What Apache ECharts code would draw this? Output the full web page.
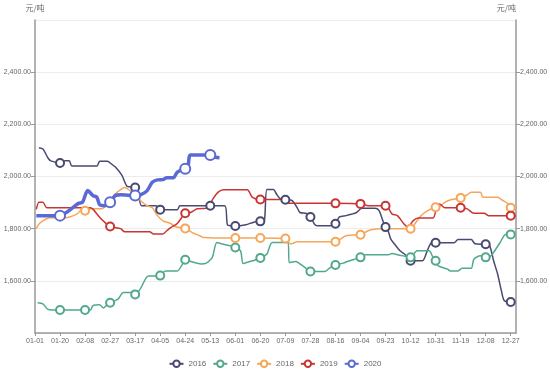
<!DOCTYPE html>
<html>
<head>
<meta charset="utf-8">
<script src="https://cdn.jsdelivr.net/npm/echarts@6/dist/echarts.min.js"></script>
<style>
  html, body { margin: 0; padding: 0; background: #fff; }
  #chart { width: 550px; height: 376px; }
</style>
</head>
<body>
<div id="chart"></div>
<script>
// x categories: every day of a leap year, labelled MM-DD
const monthDays = [31, 29, 31, 30, 31, 30, 31, 31, 30, 31, 30, 31];
const days = [];
monthDays.forEach((n, m) => {
  for (let d = 1; d <= n; d++) {
    days.push(String(m + 1).padStart(2, "0") + "-" + String(d).padStart(2, "0"));
  }
});

const years = ["2016", "2017", "2018", "2019", "2020"];

// [date, 元/吨]
const y2016 = [
  ["01-04", 2110], ["01-07", 2105], ["01-11", 2070], ["01-13", 2060], ["01-20", 2052],
  ["01-24", 2060], ["01-27", 2060], ["01-29", 2040], ["02-17", 2040], ["02-19", 2058],
  ["02-25", 2058], ["02-28", 2048], ["03-02", 2036], ["03-07", 2004], ["03-11", 1962],
  ["03-17", 1958], ["03-19", 1945], ["03-22", 1888], ["04-02", 1888], ["04-04", 1873],
  ["04-05", 1873], ["04-18", 1873], ["04-20", 1888], ["05-13", 1888], ["05-24", 1888],
  ["05-26", 1815], ["05-29", 1811], ["06-01", 1810], ["06-09", 1815], ["06-15", 1825],
  ["06-20", 1828], ["06-23", 1830], ["06-25", 1950], ["06-30", 1950], ["07-02", 1935],
  ["07-05", 1915], ["07-09", 1911], ["07-14", 1908], ["07-18", 1880], ["07-20", 1862],
  ["07-25", 1858], ["07-28", 1845], ["07-31", 1818], ["08-02", 1811], ["08-12", 1811],
  ["08-16", 1819], ["08-19", 1845], ["08-24", 1850], ["08-28", 1855], ["09-01", 1862],
  ["09-05", 1878], ["09-15", 1878], ["09-18", 1870], ["09-21", 1830], ["09-23", 1806],
  ["09-25", 1790], ["09-27", 1760], ["09-30", 1740], ["10-04", 1715], ["10-08", 1700],
  ["10-12", 1677], ["10-21", 1677], ["10-25", 1720], ["10-28", 1746], ["10-31", 1746],
  ["11-14", 1746], ["11-17", 1758], ["11-27", 1758], ["11-30", 1742], ["12-08", 1740],
  ["12-11", 1735], ["12-14", 1677], ["12-17", 1627], ["12-20", 1560], ["12-22", 1525],
  ["12-27", 1519], ["12-29", 1519]
];
const y2017 = [
  ["01-03", 1516], ["01-07", 1512], ["01-11", 1490], ["01-20", 1488], ["02-08", 1488],
  ["02-12", 1488], ["02-14", 1505], ["02-19", 1508], ["02-22", 1496], ["02-25", 1510],
  ["02-27", 1516], ["03-04", 1530], ["03-08", 1555], ["03-14", 1555], ["03-17", 1548],
  ["03-21", 1570], ["03-27", 1619], ["04-03", 1619], ["04-05", 1620], ["04-09", 1638],
  ["04-18", 1638], ["04-22", 1665], ["04-24", 1681], ["04-29", 1673], ["05-06", 1665],
  ["05-10", 1668], ["05-14", 1686], ["05-15", 1696], ["05-18", 1747], ["05-23", 1740],
  ["05-28", 1735], ["06-01", 1728], ["06-05", 1715], ["06-07", 1666], ["06-12", 1674],
  ["06-16", 1680], ["06-20", 1688], ["06-25", 1703], ["06-29", 1747], ["07-11", 1747],
  ["07-12", 1670], ["07-17", 1674], ["07-20", 1665], ["07-24", 1651], ["07-28", 1636],
  ["08-08", 1636], ["08-12", 1651], ["08-16", 1661], ["08-22", 1668], ["08-25", 1674],
  ["08-30", 1682], ["09-04", 1690], ["09-08", 1700], ["09-25", 1700], ["09-28", 1705],
  ["10-02", 1700], ["10-08", 1694], ["10-12", 1690], ["10-17", 1715], ["10-26", 1715],
  ["10-29", 1690], ["10-31", 1677], ["11-02", 1657], ["11-09", 1645], ["11-11", 1638],
  ["11-17", 1638], ["11-20", 1648], ["11-27", 1648], ["11-29", 1683], ["12-04", 1696],
  ["12-08", 1690], ["12-12", 1696], ["12-14", 1709], ["12-19", 1747], ["12-23", 1778],
  ["12-27", 1778], ["12-29", 1782]
];
const y2018 = [
  ["01-02", 1800], ["01-04", 1818], ["01-07", 1830], ["01-12", 1842], ["01-24", 1842],
  ["02-02", 1857], ["02-06", 1876], ["02-08", 1869], ["02-12", 1876], ["02-19", 1876],
  ["02-22", 1880], ["02-26", 1905], ["03-02", 1934], ["03-06", 1950], ["03-09", 1958],
  ["03-13", 1946], ["03-18", 1928], ["03-21", 1908], ["03-26", 1888], ["03-30", 1880],
  ["04-03", 1850], ["04-07", 1830], ["04-13", 1820], ["04-16", 1808], ["04-24", 1801],
  ["04-29", 1786], ["05-05", 1773], ["05-08", 1766], ["06-01", 1764], ["06-20", 1764],
  ["07-09", 1762], ["07-13", 1741], ["07-18", 1750], ["08-16", 1750], ["08-24", 1773],
  ["09-04", 1777], ["09-09", 1790], ["09-12", 1796], ["09-19", 1800], ["10-12", 1800],
  ["10-16", 1824], ["10-20", 1850], ["10-25", 1869], ["10-31", 1882], ["11-03", 1885],
  ["11-07", 1901], ["11-11", 1910], ["11-19", 1918], ["11-24", 1930], ["11-27", 1940],
  ["12-04", 1940], ["12-06", 1920], ["12-17", 1920], ["12-21", 1908], ["12-25", 1895],
  ["12-27", 1880], ["12-29", 1870]
];
const y2019 = [
  ["01-02", 1874], ["01-04", 1901], ["01-07", 1901], ["01-10", 1880], ["02-12", 1880],
  ["02-14", 1875], ["02-19", 1844], ["02-23", 1824], ["02-27", 1808], ["03-06", 1800],
  ["03-09", 1788], ["03-28", 1788], ["03-31", 1780], ["04-07", 1780], ["04-10", 1792],
  ["04-13", 1804], ["04-18", 1820], ["04-24", 1859], ["04-28", 1862], ["05-03", 1876],
  ["05-11", 1880], ["05-15", 1914], ["05-19", 1940], ["05-23", 1949], ["06-10", 1949],
  ["06-14", 1920], ["06-20", 1912], ["07-07", 1912], ["07-11", 1897], ["08-16", 1897],
  ["09-04", 1895], ["09-10", 1888], ["09-23", 1888], ["09-25", 1880], ["09-28", 1856],
  ["10-02", 1850], ["10-07", 1818], ["10-10", 1805], ["10-14", 1831], ["10-18", 1841],
  ["10-29", 1841], ["11-01", 1888], ["11-03", 1895], ["11-07", 1880], ["11-19", 1880],
  ["11-24", 1876], ["11-29", 1859], ["12-07", 1859], ["12-10", 1850], ["12-27", 1850],
  ["12-31", 1850]
];
const y2020 = [
  ["01-02", 1850], ["01-20", 1850], ["01-25", 1863], ["01-30", 1882], ["02-03", 1897],
  ["02-06", 1901], ["02-10", 1946], ["02-14", 1927], ["02-17", 1920], ["02-19", 1892],
  ["02-23", 1888], ["02-27", 1901], ["03-02", 1927], ["03-06", 1930], ["03-17", 1927],
  ["03-21", 1930], ["03-26", 1945], ["03-30", 1978], ["04-03", 1987], ["04-07", 1988],
  ["04-10", 1995], ["04-15", 1995], ["04-18", 2017], ["04-24", 2030], ["04-26", 2035],
  ["04-28", 2082], ["05-13", 2082], ["05-17", 2074], ["05-20", 2072]
];

const seriesData = [y2016, y2017, y2018, y2019, y2020];
const colors = ["#484a72", "#52a88f", "#f5a658", "#c93533", "#5a6ad4"];

const fontFam = "'Liberation Sans', Arial, sans-serif";
const txt = "#666";

function money(v) {
  return v.toLocaleString("en-US", { minimumFractionDigits: 2, maximumFractionDigits: 2 });
}

function yAxis(pos) {
  return {
    type: "value",
    position: pos,
    min: 1400,
    max: 2600,
    interval: 200,
    name: "元/吨",
    nameGap: 8,
    nameTextStyle: {
      color: txt, fontSize: 8, fontFamily: "'Noto Sans CJK SC', sans-serif",
      align: pos === "left" ? "center" : "right"
    },
    axisLine: { show: true, lineStyle: { color: "#999", width: 1.5 } },
    axisTick: { show: true, length: 4, lineStyle: { color: "#999" } },
    axisLabel: {
      color: txt, fontSize: 7, fontFamily: fontFam, margin: 4,
      showMinLabel: false, showMaxLabel: false,
      formatter: money
    },
    splitLine: { show: pos === "left", lineStyle: { color: "#ececec", width: 1 } }
  };
}

const chart = echarts.init(document.getElementById("chart"));
chart.setOption({
  animation: false,
  color: colors,
  grid: { left: 35, right: 34, top: 20, bottom: 43, outerBoundsMode: "none" },
  legend: {
    bottom: 3,
    left: "center",
    itemWidth: 14,
    itemHeight: 8,
    itemGap: 6,
    textStyle: { color: txt, fontSize: 8, fontFamily: fontFam },
    data: years
  },
  xAxis: {
    type: "category",
    boundaryGap: false,
    data: days,
    axisLine: { lineStyle: { color: "#999", width: 1.5 } },
    axisTick: { show: true, interval: 18, length: 3, lineStyle: { color: "#999" } },
    axisLabel: { interval: 18, color: txt, fontSize: 7, fontFamily: fontFam, margin: 5 },
    splitLine: { show: false }
  },
  yAxis: [yAxis("left"), yAxis("right")],
  series: years.map((name, i) => ({
    name: name,
    type: "line",
    data: seriesData[i],
    smooth: 0.25,
    symbol: "emptyCircle",
    symbolSize: i === 4 ? 10 : 8,
    showAllSymbol: "auto",
    lineStyle: { width: i === 4 ? 3.5 : 1.5, color: colors[i] },
    itemStyle: { color: colors[i], borderWidth: i === 4 ? 2.2 : 1 },
    z: i === 4 ? 5 : 2
  }))
});
</script>
</body>
</html>
